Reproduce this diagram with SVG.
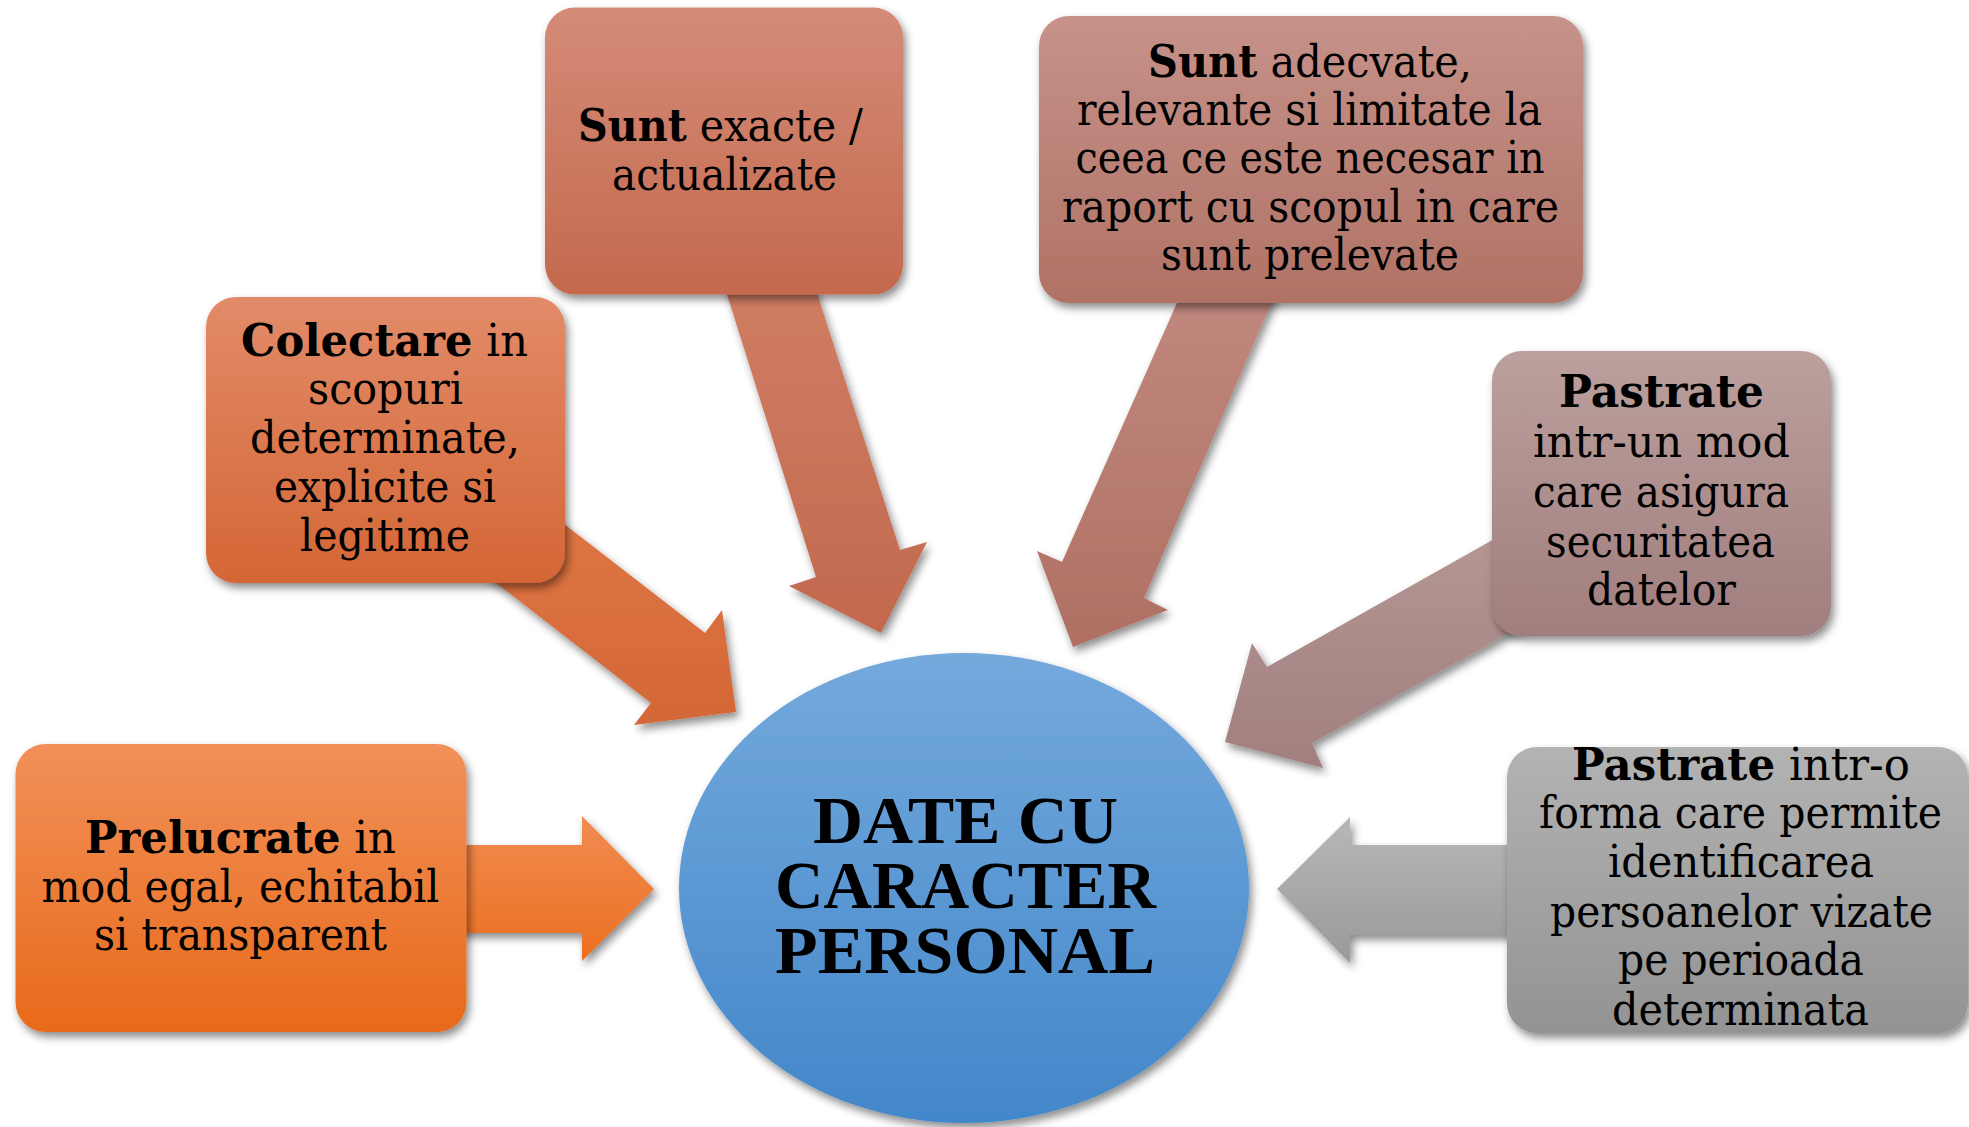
<svg xmlns="http://www.w3.org/2000/svg" width="1969" height="1127" viewBox="0 0 1969 1127">
<defs>
<filter id="sh" x="-20%" y="-20%" width="140%" height="140%">
<feDropShadow dx="3" dy="5" stdDeviation="4" flood-color="#000" flood-opacity="0.45"/>
</filter>
<linearGradient id="g1" x1="0" y1="0" x2="0" y2="1"><stop offset="0" stop-color="#F19059"/><stop offset="1" stop-color="#E86A1A"/></linearGradient>
<linearGradient id="g2" x1="0" y1="0" x2="0" y2="1"><stop offset="0" stop-color="#E28B69"/><stop offset="1" stop-color="#D46635"/></linearGradient>
<linearGradient id="g3" x1="0" y1="0" x2="0" y2="1"><stop offset="0" stop-color="#D48B78"/><stop offset="1" stop-color="#C4694D"/></linearGradient>
<linearGradient id="g4" x1="0" y1="0" x2="0" y2="1"><stop offset="0" stop-color="#C6928A"/><stop offset="1" stop-color="#B07265"/></linearGradient>
<linearGradient id="g5" x1="0" y1="0" x2="0" y2="1"><stop offset="0" stop-color="#BBA09E"/><stop offset="1" stop-color="#A07E7D"/></linearGradient>
<linearGradient id="g6" x1="0" y1="0" x2="0" y2="1"><stop offset="0" stop-color="#B3B3B3"/><stop offset="1" stop-color="#939393"/></linearGradient>
<linearGradient id="gc" x1="0" y1="0" x2="0" y2="1"><stop offset="0" stop-color="#74A9DC"/><stop offset="1" stop-color="#4287CA"/></linearGradient>
<linearGradient id="a1" x1="0" y1="0" x2="0" y2="1"><stop offset="0" stop-color="#F18C52"/><stop offset="1" stop-color="#EB6F20"/></linearGradient>
<linearGradient id="a2" x1="0" y1="0" x2="0" y2="1"><stop offset="0" stop-color="#E37B4A"/><stop offset="1" stop-color="#D46737"/></linearGradient>
<linearGradient id="a3" x1="0" y1="0" x2="0" y2="1"><stop offset="0" stop-color="#D17F66"/><stop offset="1" stop-color="#C2694E"/></linearGradient>
<linearGradient id="a4" x1="0" y1="0" x2="0" y2="1"><stop offset="0" stop-color="#C28A80"/><stop offset="1" stop-color="#AF7063"/></linearGradient>
<linearGradient id="a5" x1="0" y1="0" x2="0" y2="1"><stop offset="0" stop-color="#B69A97"/><stop offset="1" stop-color="#A17F7E"/></linearGradient>
<linearGradient id="a6" x1="0" y1="0" x2="0" y2="1"><stop offset="0" stop-color="#B8B8B8"/><stop offset="1" stop-color="#999999"/></linearGradient>
</defs>
<style>
.box{filter:url(#sh);}
.arr{filter:url(#sh);}
.t{font-family:"DejaVu Serif","Liberation Serif",serif;font-size:45px;fill:#000;}
.b{font-weight:bold;}
.c{font-family:"Liberation Serif","Times New Roman",serif;font-size:67px;font-weight:bold;fill:#000;}
</style>
<rect width="1969" height="1127" fill="#fff"/>
<g id="connectors">
<polygon class="arr" fill="url(#a1)" points="440,845 582,845 582,816 654,889 582,961 582,933 440,933"/>
<polygon class="arr" fill="url(#a2)" points="440,428 705,633 722,610 736,712 634,725 651,703 380,493"/>
<polygon class="arr" fill="url(#a3)" points="713,250 803,250 900,550 927,542 881,633 789,586 816,577"/>
<polygon class="arr" fill="url(#a4)" points="1196,260 1290,260 1144,598 1168,610 1073,647 1037,551 1062,562"/>
<polygon class="arr" fill="url(#a5)" points="1560,502 1267,667 1252,643 1225,742 1323,768 1312,743 1560,605"/>
<polygon class="arr" fill="url(#a6)" points="1530,845 1350,845 1350,817 1277,889 1350,963 1350,935 1530,935"/>
</g>
<g id="center">
<ellipse class="box" cx="964" cy="888" rx="285" ry="235" fill="url(#gc)"/>
<text class="c" x="813" y="843" textLength="305" lengthAdjust="spacingAndGlyphs">DATE CU</text>
<text class="c" x="775" y="908" textLength="381" lengthAdjust="spacingAndGlyphs">CARACTER</text>
<text class="c" x="775" y="973" textLength="380" lengthAdjust="spacingAndGlyphs">PERSONAL</text>
</g>
<g id="node1">
<rect class="box" x="15.5" y="744" width="451" height="288" rx="30" fill="url(#g1)"/>
<text class="t" x="85" y="853" textLength="311" lengthAdjust="spacingAndGlyphs"><tspan class="b">Prelucrate</tspan> in</text>
<text class="t" x="41.5" y="902" textLength="398" lengthAdjust="spacingAndGlyphs">mod egal, echitabil</text>
<text class="t" x="94" y="950" textLength="293" lengthAdjust="spacingAndGlyphs">si transparent</text>
</g>
<g id="node2">
<rect class="box" x="206" y="297" width="359" height="286" rx="30" fill="url(#g2)"/>
<text class="t" x="241" y="356" textLength="287" lengthAdjust="spacingAndGlyphs"><tspan class="b">Colectare</tspan> in</text>
<text class="t" x="308" y="404" textLength="155" lengthAdjust="spacingAndGlyphs">scopuri</text>
<text class="t" x="250" y="453" textLength="270" lengthAdjust="spacingAndGlyphs">determinate,</text>
<text class="t" x="274" y="502" textLength="222" lengthAdjust="spacingAndGlyphs">explicite si</text>
<text class="t" x="300" y="551" textLength="170" lengthAdjust="spacingAndGlyphs">legitime</text>
</g>
<g id="node3">
<rect class="box" x="545" y="7.5" width="358" height="287" rx="30" fill="url(#g3)"/>
<text class="t" x="578" y="141" textLength="285" lengthAdjust="spacingAndGlyphs"><tspan class="b">Sunt</tspan> exacte /</text>
<text class="t" x="612" y="190" textLength="225" lengthAdjust="spacingAndGlyphs">actualizate</text>
</g>
<g id="node4">
<rect class="box" x="1039" y="16" width="544" height="287" rx="30" fill="url(#g4)"/>
<text class="t" x="1148" y="77" textLength="324" lengthAdjust="spacingAndGlyphs"><tspan class="b">Sunt</tspan> adecvate,</text>
<text class="t" x="1077" y="125" textLength="465" lengthAdjust="spacingAndGlyphs">relevante si limitate la</text>
<text class="t" x="1075.5" y="173" textLength="469" lengthAdjust="spacingAndGlyphs">ceea ce este necesar in</text>
<text class="t" x="1062" y="222" textLength="497" lengthAdjust="spacingAndGlyphs">raport cu scopul in care</text>
<text class="t" x="1161" y="270" textLength="298" lengthAdjust="spacingAndGlyphs">sunt prelevate</text>
</g>
<g id="node5">
<rect class="box" x="1492" y="351" width="339" height="285" rx="30" fill="url(#g5)"/>
<text class="t b" x="1559" y="407" textLength="205" lengthAdjust="spacingAndGlyphs">Pastrate</text>
<text class="t" x="1533" y="457" textLength="257" lengthAdjust="spacingAndGlyphs">intr-un mod</text>
<text class="t" x="1533" y="507" textLength="256" lengthAdjust="spacingAndGlyphs">care asigura</text>
<text class="t" x="1546" y="557" textLength="229" lengthAdjust="spacingAndGlyphs">securitatea</text>
<text class="t" x="1587" y="605" textLength="149" lengthAdjust="spacingAndGlyphs">datelor</text>
</g>
<g id="node6">
<rect class="box" x="1507" y="747" width="461" height="286" rx="30" fill="url(#g6)"/>
<text class="t" x="1572" y="780" textLength="338" lengthAdjust="spacingAndGlyphs"><tspan class="b">Pastrate</tspan> intr-o</text>
<text class="t" x="1539" y="828" textLength="403" lengthAdjust="spacingAndGlyphs">forma care permite</text>
<text class="t" x="1608" y="877" textLength="266" lengthAdjust="spacingAndGlyphs">identificarea</text>
<text class="t" x="1550" y="927" textLength="383" lengthAdjust="spacingAndGlyphs">persoanelor vizate</text>
<text class="t" x="1618" y="975" textLength="246" lengthAdjust="spacingAndGlyphs">pe perioada</text>
<text class="t" x="1612" y="1025" textLength="257" lengthAdjust="spacingAndGlyphs">determinata</text>
</g>
</svg>
